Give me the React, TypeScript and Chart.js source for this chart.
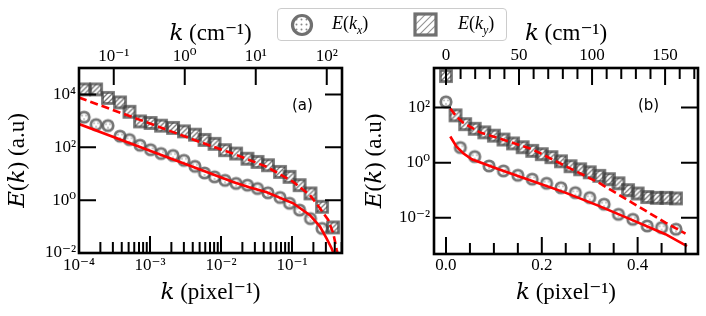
import React, { useEffect, useRef } from 'react';
import { Chart, registerables } from 'chart.js';
Chart.register(...registerables);

// ---------------- DATA ----------------
// Panel (a): log-log, k in pixel^-1
const A_K = [1.18e-4, 1.74e-4, 2.56e-4, 3.78e-4, 5.14e-4, 7.23e-4, 1.02e-3, 1.43e-3, 2.11e-3, 3.01e-3, 4.3e-3, 5.86e-3, 8.1e-3, 1.14e-2, 1.63e-2, 2.36e-2, 3.27e-2, 4.59e-2, 6.78e-2, 9.22e-2, 0.128, 0.182, 0.265, 0.378];
const A_EKX = [1380, 724, 661, 263, 195, 120, 81, 58, 49, 32, 19, 10.7, 7.6, 5.6, 4.3, 3.7, 2.75, 1.9, 1.26, 0.76, 0.42, 0.2, 0.085];
const A_EKY = [15500, 15500, 7400, 5000, 2200, 955, 830, 660, 540, 400, 300, 190, 135, 78, 58, 37, 28, 21, 11.7, 7.6, 3.7, 1.8, 0.56, 0.093];
const A_FITX_K = [1e-4, 1e-3, 5.06e-3, 1.48e-2, 2.5e-2, 4.41e-2, 0.104, 0.179, 0.248, 0.308, 0.362, 0.382, 0.392];
const A_FITX_E = [760, 74, 14.5, 4.9, 3.1, 2.0, 0.76, 0.27, 0.1, 0.035, 0.0148, 0.01, 0.008];
const A_FITY_K = [1e-4, 1e-3, 5.06e-3, 1.48e-2, 4.41e-2, 0.104, 0.179, 0.248, 0.324, 0.382, 0.427, 0.437, 0.445];
const A_FITY_E = [7600, 794, 158, 57.5, 18.2, 4.9, 1.55, 0.49, 0.178, 0.055, 0.0129, 0.01, 0.008];

// Panel (b): lin-log
const B_KX = [0, 0.03, 0.06, 0.09, 0.12, 0.15, 0.18, 0.21, 0.24, 0.27, 0.3, 0.33, 0.36, 0.39, 0.42, 0.45, 0.48];
const B_EKX = [162, 3.55, 1.66, 0.759, 0.501, 0.347, 0.251, 0.178, 0.123, 0.0813, 0.0537, 0.0309, 0.0132, 0.0087, 0.005, 0.00437, 0.0038];
const B_KY = [0, 0.02, 0.04, 0.06, 0.08, 0.1, 0.12, 0.14, 0.16, 0.18, 0.2, 0.22, 0.24, 0.26, 0.28, 0.3, 0.32, 0.34, 0.36, 0.38, 0.4, 0.42, 0.44, 0.46, 0.48];
const B_EKY = [1410, 52.5, 25.1, 17.0, 12.6, 9.55, 6.92, 5.01, 3.63, 2.69, 2.04, 1.58, 1.12, 0.741, 0.575, 0.447, 0.331, 0.251, 0.178, 0.1, 0.0759, 0.0562, 0.0525, 0.0525, 0.0501];
const B_FITX_K = [0.009, 0.022, 0.036, 0.054, 0.11, 0.18, 0.249, 0.319, 0.388, 0.458, 0.503];
const B_FITX_E = [8.91, 3.8, 2.19, 1.32, 0.575, 0.214, 0.0813, 0.0269, 0.0083, 0.00251, 0.00093];
const B_FITY_K = [0.009, 0.022, 0.036, 0.071, 0.108, 0.18, 0.249, 0.319, 0.388, 0.458, 0.5];
const B_FITY_E = [93, 46.8, 28.2, 12.6, 7.94, 3.09, 0.759, 0.186, 0.0355, 0.0066, 0.00263];

// Ticks
const A_X_MAJOR = [1e-4, 1e-3, 1e-2, 1e-1];
const A_X2_MAJOR = [0.1, 1, 10, 100];
const A_Y_MAJOR = [1e-2, 1, 1e2, 1e4];
const B_X_MAJOR = [0, 0.2, 0.4];
const B_X_MINOR = [0.05, 0.1, 0.15, 0.25, 0.3, 0.35, 0.45, 0.5];
const B_X2_MAJOR = [0, 50, 100, 150];
const B_X2_MINOR = [10, 20, 30, 40, 60, 70, 80, 90, 110, 120, 130, 140, 160, 170];
const B_Y_MAJOR = [1e-2, 1, 1e2];
const CM_PER_PIX_A = 324;
const CM_PER_PIX_B = 328;

const LABEL_KX = 'E(kₓ)';
const LABEL_KY = 'E(k_y)';

// ---------------- helpers ----------------
const SUP: Record<string, string> = { '-': '⁻', '0': '⁰', '1': '¹', '2': '²', '3': '³', '4': '⁴', '5': '⁵', '6': '⁶', '7': '⁷', '8': '⁸', '9': '⁹' };
const powLabel = (v: number) => '10' + String(Math.round(Math.log10(v))).split('').map((c) => SUP[c] || c).join('');

const SERIF = "'Liberation Serif', 'DejaVu Serif', serif";
const GRAY = 'rgba(60,60,60,0.7)';
const RED = '#ff0000';

function circleMarker(): HTMLCanvasElement {
  const c = document.createElement('canvas');
  c.width = 16; c.height = 16;
  const g = c.getContext('2d')!;
  g.fillStyle = 'rgba(100,100,100,0.5)';
  [[6, 6.5], [10, 6.5], [8, 10]].forEach(([x, y]) => { g.beginPath(); g.arc(x, y, 0.9, 0, Math.PI * 2); g.fill(); });
  g.strokeStyle = GRAY; g.lineWidth = 2.8;
  g.beginPath(); g.arc(8, 8, 5.2, 0, Math.PI * 2); g.stroke();
  return c;
}
function squareMarker(): HTMLCanvasElement {
  const c = document.createElement('canvas');
  c.width = 16; c.height = 16;
  const g = c.getContext('2d')!;
  g.save();
  g.beginPath(); g.rect(2.5, 2.5, 11, 11); g.clip();
  g.strokeStyle = GRAY; g.lineWidth = 1.3;
  for (let o = -10; o <= 26; o += 5) { g.beginPath(); g.moveTo(o, 16); g.lineTo(o + 16, 0); g.stroke(); }
  g.restore();
  g.strokeStyle = GRAY; g.lineWidth = 2.8;
  g.strokeRect(2.5, 2.5, 11, 11);
  return c;
}

type TickSpec = { id: string; side: 'bottom' | 'top' | 'left'; major: number[]; minor: number[] };
function framePlugin(specs: TickSpec[]) {
  return {
    id: 'frameTicks',
    afterDatasetsDraw(chart: any) {
      const { ctx, chartArea: a } = chart;
      ctx.save();
      ctx.strokeStyle = '#000';
      ctx.lineWidth = 2;
      const MAJ = 17, MIN = 11;
      specs.forEach((s) => {
        const sc = chart.scales[s.id];
        const draw = (v: number, len: number) => {
          const p = sc.getPixelForValue(v);
          ctx.beginPath();
          if (s.side === 'bottom') { if (p < a.left - 0.5 || p > a.right + 0.5) return; ctx.moveTo(p, a.bottom); ctx.lineTo(p, a.bottom - len); }
          else if (s.side === 'top') { if (p < a.left - 0.5 || p > a.right + 0.5) return; ctx.moveTo(p, a.top); ctx.lineTo(p, a.top + len); }
          else {
            if (p < a.top - 0.5 || p > a.bottom + 0.5) return;
            ctx.moveTo(a.left, p); ctx.lineTo(a.left + len, p);
            ctx.moveTo(a.right, p); ctx.lineTo(a.right - len, p);
          }
          ctx.stroke();
        };
        s.major.forEach((v) => draw(v, MAJ));
        s.minor.forEach((v) => draw(v, MIN));
      });
      ctx.lineWidth = 2.6;
      ctx.strokeRect(a.left, a.top, a.right - a.left, a.bottom - a.top);
      ctx.restore();
    },
  };
}

const tickFont = { family: SERIF, size: 17 };
const titleFont = { family: SERIF, size: 23 };

function axisBase(extra: any) {
  return {
    grid: { display: false, drawTicks: false },
    border: { display: false },
    ...extra,
  };
}

function pts(xs: number[], ys: number[]) {
  return ys.map((y, i) => ({ x: xs[i], y }));
}

function datasets(mk: { c: HTMLCanvasElement; s: HTMLCanvasElement }, kx: number[], ex: number[], ky: number[], ey: number[], fxk: number[], fxe: number[], fyk: number[], fye: number[]) {
  return [
    { label: 'fit x', data: pts(fxk, fxe), showLine: true, borderColor: RED, borderWidth: 2.6, pointRadius: 0, order: 0, clip: 0 },
    { label: 'fit y', data: pts(fyk, fye), showLine: true, borderColor: RED, borderWidth: 2.6, borderDash: [8, 4], pointRadius: 0, order: 0, clip: 0 },
    { label: LABEL_KX, data: pts(kx, ex), pointStyle: mk.c, pointRadius: 6, order: 1, clip: 0 },
    { label: LABEL_KY, data: pts(ky, ey), pointStyle: mk.s, pointRadius: 6, order: 1, clip: 0 },
  ];
}

export default function App() {
  const refA = useRef<HTMLCanvasElement>(null);
  const refB = useRef<HTMLCanvasElement>(null);

  useEffect(() => {
    document.body.style.margin = '0';
    const mk = { c: circleMarker(), s: squareMarker() };
    const common = {
      responsive: false,
      animation: false as const,
      events: [] as any[],
      plugins: { legend: { display: false }, tooltip: { enabled: false } },
    };

    const chartA = new Chart(refA.current!, {
      type: 'scatter',
      data: { datasets: datasets(mk, A_K, A_EKX, A_K, A_EKY, A_FITX_K, A_FITX_E, A_FITY_K, A_FITY_E) as any },
      options: {
        ...common,
        layout: { padding: { left: 0, right: 11, top: 0, bottom: 0 } },
        scales: {
          x: axisBase({
            type: 'logarithmic', position: 'bottom', min: 1e-4, max: 0.506,
            afterBuildTicks: (s: any) => { s.ticks = A_X_MAJOR.map((v) => ({ value: v })); },
            ticks: { callback: (v: any) => powLabel(Number(v)), font: tickFont, color: '#000', padding: 2, maxRotation: 0, autoSkip: false },
            title: { display: true, text: '𝑘 (pixel⁻¹)', font: titleFont, color: '#000', padding: { top: 0, bottom: 9 } },
            afterFit: (s: any) => { s.height = 63; },
          }),
          x2: axisBase({
            type: 'logarithmic', position: 'top', min: 1e-4 * CM_PER_PIX_A, max: 0.506 * CM_PER_PIX_A,
            afterBuildTicks: (s: any) => { s.ticks = A_X2_MAJOR.map((v) => ({ value: v })); },
            ticks: { callback: (v: any) => powLabel(Number(v)), font: tickFont, color: '#000', padding: 1, maxRotation: 0, autoSkip: false },
            title: { display: true, text: '𝑘 (cm⁻¹)', font: titleFont, color: '#000', padding: { top: 20, bottom: 0 } },
            afterFit: (s: any) => { s.height = 68; },
          }),
          y: axisBase({
            type: 'logarithmic', position: 'left', min: 1e-2, max: 1e5,
            afterBuildTicks: (s: any) => { s.ticks = A_Y_MAJOR.map((v) => ({ value: v })); },
            ticks: { callback: (v: any) => powLabel(Number(v)), font: tickFont, color: '#000', padding: 3, autoSkip: false },
            title: { display: true, text: '𝐸(𝑘) (a.u)', font: titleFont, color: '#000', padding: { top: 4, bottom: 0 } },
            afterFit: (s: any) => { s.width = 79; },
          }),
        },
      } as any,
      plugins: [framePlugin([
        { id: 'x', side: 'bottom', major: A_X_MAJOR, minor: [1e-4, 1e-3, 1e-2, 1e-1].flatMap((d) => [2, 3, 4, 5, 6, 7, 8, 9].map((m) => m * d)) },
        { id: 'x2', side: 'top', major: A_X2_MAJOR, minor: [] },
        { id: 'y', side: 'left', major: A_Y_MAJOR, minor: [] },
      ])],
    });

    const chartB = new Chart(refB.current!, {
      type: 'scatter',
      data: { datasets: datasets(mk, B_KX, B_EKX, B_KY, B_EKY, B_FITX_K, B_FITX_E, B_FITY_K, B_FITY_E) as any },
      options: {
        ...common,
        layout: { padding: { left: 0, right: 8, top: 0, bottom: 0 } },
        scales: {
          x: axisBase({
            type: 'linear', position: 'bottom', min: -0.025, max: 0.526,
            afterBuildTicks: (s: any) => { s.ticks = B_X_MAJOR.map((v) => ({ value: v })); },
            ticks: { callback: (v: any) => Number(v).toFixed(1), font: tickFont, color: '#000', padding: 1, maxRotation: 0, autoSkip: false },
            title: { display: true, text: '𝑘 (pixel⁻¹)', font: titleFont, color: '#000', padding: { top: 0, bottom: 9 } },
            afterFit: (s: any) => { s.height = 62; },
          }),
          x2: axisBase({
            type: 'linear', position: 'top', min: -0.025 * CM_PER_PIX_B, max: 0.526 * CM_PER_PIX_B,
            afterBuildTicks: (s: any) => { s.ticks = B_X2_MAJOR.map((v) => ({ value: v })); },
            ticks: { callback: (v: any) => String(v), font: tickFont, color: '#000', padding: 2, maxRotation: 0, autoSkip: false },
            title: { display: true, text: '𝑘 (cm⁻¹)', font: titleFont, color: '#000', padding: { top: 20, bottom: 0 } },
            afterFit: (s: any) => { s.height = 68; },
          }),
          y: axisBase({
            type: 'logarithmic', position: 'left', min: Math.pow(10, -3.32), max: Math.pow(10, 3.44),
            afterBuildTicks: (s: any) => { s.ticks = B_Y_MAJOR.map((v) => ({ value: v })); },
            ticks: { callback: (v: any) => powLabel(Number(v)), font: tickFont, color: '#000', padding: 4, autoSkip: false },
            title: { display: true, text: '𝐸(𝑘) (a.u)', font: titleFont, color: '#000', padding: { top: 8, bottom: 0 } },
            afterFit: (s: any) => { s.width = 81; },
          }),
        },
      } as any,
      plugins: [framePlugin([
        { id: 'x', side: 'bottom', major: B_X_MAJOR, minor: B_X_MINOR },
        { id: 'x2', side: 'top', major: B_X2_MAJOR, minor: B_X2_MINOR },
        { id: 'y', side: 'left', major: B_Y_MAJOR, minor: [] },
      ])],
    });

    return () => { chartA.destroy(); chartB.destroy(); };
  }, []);

  const panelLabel: React.CSSProperties = { position: 'absolute', fontFamily: "'DejaVu Sans', sans-serif", fontSize: 15, color: '#000', lineHeight: '16px' };
  const legText: React.CSSProperties = { position: 'absolute', fontFamily: SERIF, fontSize: 18, lineHeight: '20px', color: '#000' };

  return (
    <div style={{ position: 'fixed', left: 0, top: 0, width: 706, height: 316, background: '#fff', overflow: 'hidden' }}>
      <canvas ref={refA} width={353} height={316} style={{ position: 'absolute', left: 0, top: 0, display: 'block' }} />
      <canvas ref={refB} width={353} height={316} style={{ position: 'absolute', left: 353, top: 0, display: 'block' }} />
      <div style={{ ...panelLabel, left: 292, top: 97 }}>(a)</div>
      <div style={{ ...panelLabel, left: 638, top: 97 }}>(b)</div>
      <div style={{ position: 'absolute', left: 277, top: 8, width: 228, height: 31, border: '1px solid #cccccc', borderRadius: 4, background: 'rgba(255,255,255,0.85)' }}>
        <svg width="26" height="26" style={{ position: 'absolute', left: 11, top: 3 }}>
          <defs>
            <pattern id="dots" patternUnits="userSpaceOnUse" width="5" height="5">
              <circle cx="2.5" cy="2.5" r="1" fill="#888" />
            </pattern>
            <pattern id="hatch" patternUnits="userSpaceOnUse" width="5" height="5" patternTransform="rotate(45)">
              <line x1="0" y1="0" x2="0" y2="5" stroke="#777" strokeWidth="1.6" />
            </pattern>
          </defs>
          <circle cx="13" cy="13" r="9.5" fill="url(#dots)" stroke="#707070" strokeWidth="3.2" />
        </svg>
        <div style={{ ...legText, left: 54, top: 4 }}><i>E</i>(<i>k</i><sub style={{ fontSize: 12 }}><i>x</i></sub>)</div>
        <svg width="26" height="26" style={{ position: 'absolute', left: 135, top: 3 }}>
          <rect x="2" y="2" width="21" height="21" fill="url(#hatch)" stroke="#707070" strokeWidth="3.2" />
        </svg>
        <div style={{ ...legText, left: 180, top: 4 }}><i>E</i>(<i>k</i><sub style={{ fontSize: 12 }}><i>y</i></sub>)</div>
      </div>
    </div>
  );
}
